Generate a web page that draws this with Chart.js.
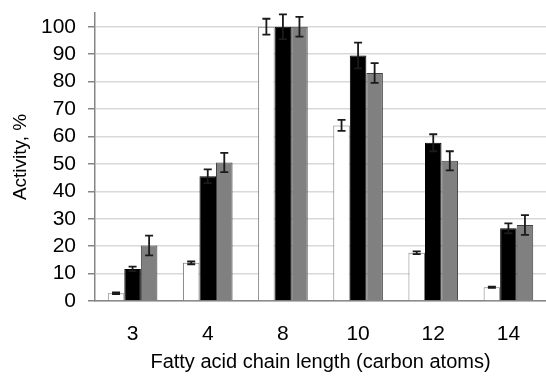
<!DOCTYPE html>
<html>
<head>
<meta charset="utf-8">
<script src="https://cdn.jsdelivr.net/npm/chart.js@4"></script>
<style>
  body { margin: 0; background: #fff; }
  #wrap { width: 546px; height: 381px; }
</style>
</head>
<body>
<div id="wrap"><canvas id="activityChart"></canvas></div>
<script>
// chain lengths on the x axis
const chainLengths = ['3', '4', '8', '10', '12', '14'];
// y axis tick values
const activityTicks = [0, 10, 20, 30, 40, 50, 60, 70, 80, 90, 100];

// relative activity (%) and its error for each of the three series
const whiteActivity = [2.8, 13.9, 100, 64.0, 17.6, 5.0];
const whiteError = [0.3, 0.5, 2.9, 2.0, 0.5, 0.2];
const blackActivity = [11.7, 45.5, 100, 89.5, 57.7, 26.5];
const blackError = [0.8, 2.5, 4.5, 4.7, 3.1, 1.8];
const grayActivity = [20.2, 50.5, 100, 83.1, 51.1, 27.7];
const grayError = [3.6, 3.5, 3.6, 3.6, 3.5, 3.6];

const FONT = "'Liberation Sans', Arial, sans-serif";

// draws I-shaped error bars on top of each bar
const errorBars = {
  id: 'errorBars',
  afterDatasetsDraw(chart) {
    const ctx = chart.ctx;
    const yScale = chart.scales.y;
    ctx.save();
    ctx.strokeStyle = '#1a1a1a';
    ctx.lineWidth = 1.8;
    chart.data.datasets.forEach((ds, i) => {
      const meta = chart.getDatasetMeta(i);
      meta.data.forEach((bar, j) => {
        const v = ds.data[j];
        const e = ds.errors[j];
        const top = yScale.getPixelForValue(v + e);
        const bot = yScale.getPixelForValue(v - e);
        const x = bar.x;
        ctx.beginPath();
        ctx.moveTo(x, top); ctx.lineTo(x, bot);
        ctx.moveTo(x - 4, top); ctx.lineTo(x + 4, top);
        ctx.moveTo(x - 4, bot); ctx.lineTo(x + 4, bot);
        ctx.stroke();
      });
    });
    ctx.restore();
  }
};

new Chart(document.getElementById('activityChart'), {
  type: 'bar',
  data: {
    labels: chainLengths,
    datasets: [
      { data: whiteActivity, errors: whiteError, backgroundColor: '#ffffff', borderColor: '#7f7f7f', borderWidth: 1 },
      { data: blackActivity, errors: blackError, backgroundColor: '#000000', borderColor: '#000000', borderWidth: 1 },
      { data: grayActivity, errors: grayError, backgroundColor: '#808080', borderColor: '#404040', borderWidth: 1 }
    ]
  },
  options: {
    responsive: true,
    maintainAspectRatio: false,
    animation: false,
    layout: { padding: { top: 13, right: -2, left: 0, bottom: 0 } },
    plugins: { legend: { display: false }, tooltip: { enabled: false } },
    datasets: { bar: { categoryPercentage: 0.66, barPercentage: 1 } },
    scales: {
      x: {
        grid: { display: true, drawOnChartArea: false, drawTicks: false },
        border: { color: '#868686', width: 1.5 },
        ticks: { color: '#000', padding: 21, autoSkip: false, font: { family: FONT, size: 21 } },
        title: {
          display: true,
          text: 'Fatty acid chain length (carbon atoms)',
          color: '#000',
          font: { family: FONT, size: 20 },
          padding: { top: 0, bottom: 7 }
        },
        afterFit(scale) {
          scale.height = 80;
          scale.paddingLeft = 0;
          scale.paddingRight = 0;
        }
      },
      y: {
        min: 0,
        max: 105,
        afterBuildTicks(axis) { axis.ticks = activityTicks.map(v => ({ value: v })); },
        grid: { color: '#d9d9d9', lineWidth: 1.5, tickLength: 7, tickColor: '#868686' },
        border: { color: '#868686', width: 1.5 },
        ticks: { color: '#000', padding: 12, autoSkip: false, font: { family: FONT, size: 21 } },
        title: {
          display: true,
          text: 'Activity, %',
          color: '#000',
          font: { family: FONT, size: 19 },
          padding: { top: 9, bottom: 0 }
        },
        afterFit(scale) {
          scale.width = 95;
          scale.paddingTop = 0;
          scale.paddingBottom = 0;
        }
      }
    }
  },
  plugins: [errorBars]
});
</script>
</body>
</html>
